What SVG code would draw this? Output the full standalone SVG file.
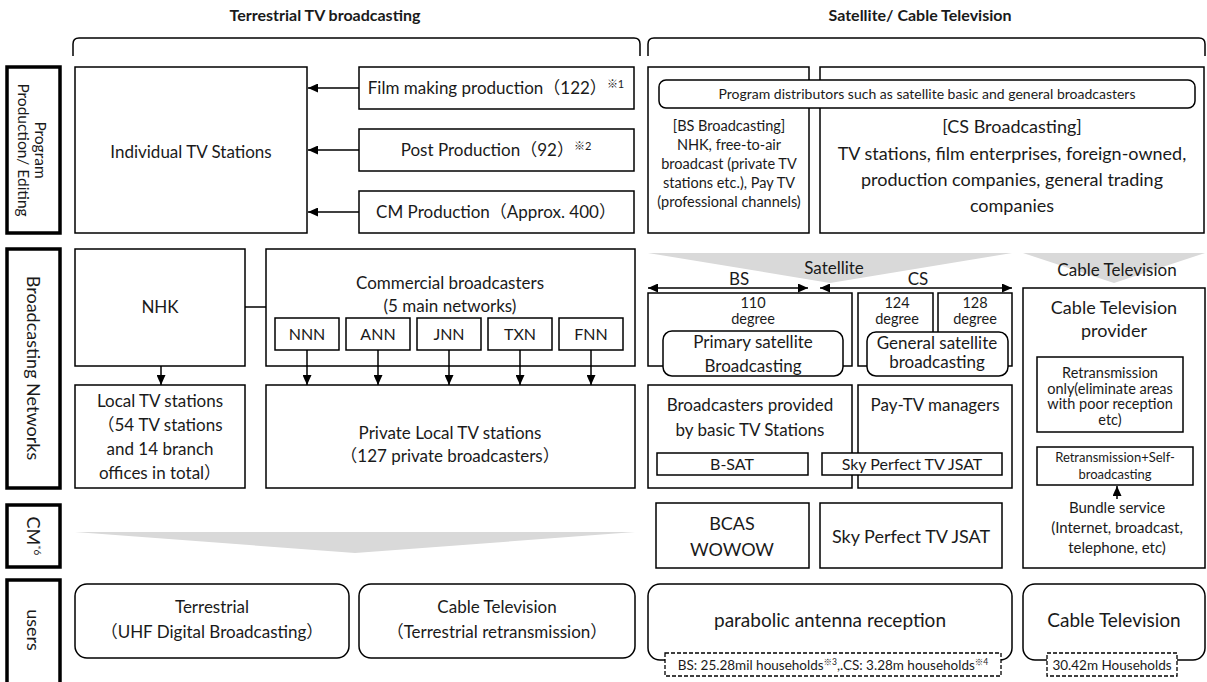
<svg xmlns="http://www.w3.org/2000/svg" width="1207" height="682" viewBox="0 0 1207 682">
<defs>
<style>
.t{font-family:Lato,"Noto Sans CJK JP",sans-serif;fill:#1a1a1a;text-anchor:middle}
.b{font-weight:bold}
.box{fill:#fff;stroke:#000;stroke-width:1.5}
.lbl{fill:#fff;stroke:#000;stroke-width:3.5}
.dash{fill:#fff;stroke:#000;stroke-width:1.3;stroke-dasharray:4 2}
.ln{fill:none;stroke:#000;stroke-width:1.5}
.chev{fill:#d9d9d9;stroke:none}
</style>
<marker id="ah" markerWidth="10" markerHeight="9" refX="10" refY="4.5" orient="auto-start-reverse" markerUnits="userSpaceOnUse"><path d="M0,0 L10,4.5 L0,9 z" fill="#000"/></marker>
</defs>
<rect width="1207" height="682" fill="#fff"/>

<g id="titles">
<text class="t b" x="325" y="21" font-size="16">Terrestrial TV broadcasting</text>
<text class="t b" x="920" y="21" font-size="16">Satellite/ Cable Television</text>
<path class="ln" d="M73,56 V44 Q73,38 79,38 H634 Q640,38 640,44 V56"/>
<path class="ln" d="M648,56 V44 Q648,38 654,38 H1199 Q1205,38 1205,44 V56"/>
</g>

<g id="row-labels">
<rect class="lbl" x="7" y="67" width="53" height="166"/>
<g transform="translate(33,150) rotate(90)"><text class="t" y="-2" font-size="15.5">Program</text><text class="t" y="15" font-size="15.5">Production/ Editing</text></g>
<rect class="lbl" x="7" y="249" width="53" height="239"/>
<g transform="translate(33,368) rotate(90)"><text class="t" y="6" font-size="18">Broadcasting Networks</text></g>
<rect class="lbl" x="7" y="505" width="53" height="62"/>
<g transform="translate(33,536) rotate(90)"><text class="t" y="6" font-size="18">CM<tspan font-size="10" dy="-7">*6</tspan></text></g>
<rect class="lbl" x="7" y="580" width="53" height="120"/>
<g transform="translate(33,630) rotate(90)"><text class="t" y="6" font-size="18">users</text></g>
</g>

<g id="individual-tv"><rect class="box" x="75" y="67" width="232" height="166"/><text class="t" x="191" y="158" font-size="17">Individual TV Stations</text></g>
<g id="film"><rect class="box" x="359" y="67" width="275" height="42"/><text class="t" x="496" y="94" font-size="17">Film making production（122）<tspan font-size="11" dy="-6">※1</tspan></text></g>
<g id="post"><rect class="box" x="359" y="129" width="275" height="42"/><text class="t" x="496" y="156" font-size="17">Post Production（92）<tspan font-size="11" dy="-6">※2</tspan></text></g>
<g id="cm-prod"><rect class="box" x="359" y="191" width="275" height="42"/><text class="t" x="496" y="218" font-size="17">CM Production（Approx. 400）</text></g>

<g id="bs-prog"><rect class="box" x="648" y="67" width="161" height="166"/>
<text class="t" x="729" y="131" font-size="14.5">[BS Broadcasting]</text>
<text class="t" x="729" y="150" font-size="14.5">NHK, free-to-air</text>
<text class="t" x="729" y="169" font-size="14.5">broadcast (private TV</text>
<text class="t" x="729" y="188" font-size="14.5">stations etc.), Pay TV</text>
<text class="t" x="729" y="207" font-size="14.5">(professional channels)</text></g>
<g id="cs-prog"><rect class="box" x="820" y="67" width="384" height="166"/>
<text class="t" x="1012" y="133" font-size="18">[CS Broadcasting]</text>
<text class="t" x="1012" y="160" font-size="18">TV stations, film enterprises, foreign-owned,</text>
<text class="t" x="1012" y="186" font-size="18">production companies, general trading</text>
<text class="t" x="1012" y="212" font-size="18">companies</text></g>
<g id="distributors"><rect class="box" x="659" y="80" width="536" height="28" rx="7"/><text class="t" x="927" y="99" font-size="14">Program distributors such as satellite basic and general broadcasters</text></g>

<g id="nhk"><rect class="box" x="75" y="249" width="170" height="117"/><text class="t" x="160" y="313" font-size="17">NHK</text></g>
<g id="commercial"><rect class="box" x="266" y="249" width="369" height="117"/><text class="t" x="450" y="289" font-size="17">Commercial broadcasters</text><text class="t" x="450" y="312" font-size="17">(5 main networks)</text></g>
<g id="nnn"><rect class="box" x="275" y="318" width="64" height="32"/><text class="t" x="307" y="340" font-size="16">NNN</text></g>
<g id="ann"><rect class="box" x="346" y="318" width="64" height="32"/><text class="t" x="378" y="340" font-size="16">ANN</text></g>
<g id="jnn"><rect class="box" x="417" y="318" width="64" height="32"/><text class="t" x="449" y="340" font-size="16">JNN</text></g>
<g id="txn"><rect class="box" x="488" y="318" width="64" height="32"/><text class="t" x="520" y="340" font-size="16">TXN</text></g>
<g id="fnn"><rect class="box" x="559" y="318" width="64" height="32"/><text class="t" x="591" y="340" font-size="16">FNN</text></g>
<g id="local-tv"><rect class="box" x="75" y="385" width="170" height="103"/>
<text class="t" x="160" y="407" font-size="17">Local TV stations</text>
<text class="t" x="160" y="431" font-size="17">（54 TV stations</text>
<text class="t" x="160" y="455" font-size="17">and 14 branch</text>
<text class="t" x="160" y="479" font-size="17">offices in total）</text></g>
<g id="private-local"><rect class="box" x="266" y="385" width="369" height="103"/><text class="t" x="450" y="439" font-size="17">Private Local TV stations</text><text class="t" x="450" y="462" font-size="17">（127 private broadcasters）</text></g>

<g id="satellite-header">
<polygon class="chev" points="648,253 1012,253 830,283"/>
<text class="t" x="834" y="274" font-size="17">Satellite</text>
<text class="t" x="739" y="285" font-size="17">BS</text>
<text class="t" x="918" y="285" font-size="17">CS</text>
</g>
<g id="bs110"><rect class="box" x="648" y="293" width="204" height="73"/><text class="t" x="753" y="308" font-size="14.5">110</text><text class="t" x="753" y="324" font-size="14.5">degree</text></g>
<g id="cs124"><rect class="box" x="858" y="293" width="75" height="73"/><text class="t" x="897" y="308" font-size="14.5">124</text><text class="t" x="897" y="324" font-size="14.5">degree</text></g>
<g id="cs128"><rect class="box" x="938" y="293" width="74" height="73"/><text class="t" x="975" y="308" font-size="14.5">128</text><text class="t" x="975" y="324" font-size="14.5">degree</text></g>
<g id="primary-sat"><rect class="box" x="663" y="331" width="180" height="45" rx="9"/><text class="t" x="753" y="348" font-size="17">Primary satellite</text><text class="t" x="753" y="372" font-size="17">Broadcasting</text></g>
<g id="general-sat"><rect class="box" x="867" y="332" width="141" height="44" rx="9"/><text class="t" x="937" y="349" font-size="17">General satellite</text><text class="t" x="937" y="368" font-size="17">broadcasting</text></g>
<g id="bs-broadcasters"><rect class="box" x="648" y="385" width="204" height="103"/><text class="t" x="750" y="411" font-size="17">Broadcasters provided</text><text class="t" x="750" y="436" font-size="17">by basic TV Stations</text></g>
<g id="paytv"><rect class="box" x="858" y="385" width="154" height="103"/><text class="t" x="935" y="411" font-size="17">Pay-TV managers</text></g>
<g id="bsat"><rect class="box" x="657" y="453" width="151" height="22"/><text class="t" x="732" y="470" font-size="16">B-SAT</text></g>
<g id="skyjsat-net"><rect class="box" x="822" y="453" width="180" height="22"/><text class="t" x="912" y="470" font-size="16">Sky Perfect TV JSAT</text></g>

<g id="cable-header"><polygon class="chev" points="1023,253 1205,253 1114,283"/><text class="t" x="1117" y="276" font-size="17">Cable Television</text></g>
<g id="cable-provider"><rect class="box" x="1023" y="288" width="182" height="280"/>
<text class="t" x="1114" y="314" font-size="18">Cable Television</text>
<text class="t" x="1114" y="337" font-size="18">provider</text></g>
<g id="retrans-only"><rect class="box" x="1037" y="357" width="146" height="75"/>
<text class="t" x="1110" y="378" font-size="14.5">Retransmission</text>
<text class="t" x="1110" y="394" font-size="14.5">only(eliminate areas</text>
<text class="t" x="1110" y="409" font-size="14.5">with poor reception</text>
<text class="t" x="1110" y="425" font-size="14.5">etc)</text></g>
<g id="retrans-self"><rect class="box" x="1037" y="447" width="156" height="38"/>
<text class="t" x="1115" y="462" font-size="13">Retransmission+Self-</text>
<text class="t" x="1115" y="479" font-size="13">broadcasting</text></g>
<g id="bundle"><text class="t" x="1117" y="513" font-size="15">Bundle service</text><text class="t" x="1117" y="533" font-size="15">(Internet, broadcast,</text><text class="t" x="1117" y="553" font-size="15">telephone, etc)</text></g>

<g id="cm-terrestrial"><polygon class="chev" points="75,532 635,532 355,553"/></g>
<g id="bcas"><rect class="box" x="656" y="503" width="153" height="65"/><text class="t" x="732" y="530" font-size="18">BCAS</text><text class="t" x="732" y="556" font-size="18">WOWOW</text></g>
<g id="skyjsat-cm"><rect class="box" x="820" y="503" width="182" height="65"/><text class="t" x="911" y="543" font-size="18">Sky Perfect TV JSAT</text></g>

<g id="users-terrestrial"><rect class="box" x="75" y="584" width="274" height="74" rx="12"/><text class="t" x="212" y="613" font-size="17">Terrestrial</text><text class="t" x="212" y="638" font-size="17">（UHF Digital Broadcasting）</text></g>
<g id="users-cable-retrans"><rect class="box" x="359" y="584" width="276" height="74" rx="12"/><text class="t" x="497" y="613" font-size="17">Cable Television</text><text class="t" x="497" y="638" font-size="17">（Terrestrial retransmission）</text></g>
<g id="users-parabolic"><rect class="box" x="648" y="584" width="364" height="76" rx="12"/><text class="t" x="830" y="627" font-size="19">parabolic antenna reception</text>
<rect class="dash" x="665" y="653" width="336" height="23"/><text class="t" x="833" y="670" font-size="13.5">BS: 25.28mil households<tspan font-size="8.5" dy="-5">※3</tspan><tspan dy="5">,.CS: 3.28m households</tspan><tspan font-size="8.5" dy="-5">※4</tspan></text></g>
<g id="users-cable"><rect class="box" x="1023" y="584" width="182" height="76" rx="12"/><text class="t" x="1114" y="627" font-size="19">Cable Television</text>
<rect class="dash" x="1047" y="653" width="130" height="23"/><text class="t" x="1112" y="670" font-size="13.5">30.42m Households</text></g>

<g id="connectors">
<line class="ln" x1="359" y1="88" x2="308" y2="88" marker-end="url(#ah)"/>
<line class="ln" x1="359" y1="150" x2="308" y2="150" marker-end="url(#ah)"/>
<line class="ln" x1="359" y1="212" x2="308" y2="212" marker-end="url(#ah)"/>
<line class="ln" x1="245" y1="307" x2="266" y2="307"/>
<line class="ln" x1="161" y1="366" x2="161" y2="385" marker-end="url(#ah)"/>
<line class="ln" x1="307" y1="350" x2="307" y2="385" marker-end="url(#ah)"/>
<line class="ln" x1="378" y1="350" x2="378" y2="385" marker-end="url(#ah)"/>
<line class="ln" x1="449" y1="350" x2="449" y2="385" marker-end="url(#ah)"/>
<line class="ln" x1="520" y1="350" x2="520" y2="385" marker-end="url(#ah)"/>
<line class="ln" x1="591" y1="350" x2="591" y2="385" marker-end="url(#ah)"/>
<line class="ln" x1="648" y1="288" x2="808" y2="288" marker-start="url(#ah)" marker-end="url(#ah)"/>
<line class="ln" x1="820" y1="288" x2="1012" y2="288" marker-start="url(#ah)" marker-end="url(#ah)"/>
<line class="ln" x1="1117" y1="499" x2="1117" y2="486" marker-end="url(#ah)"/>
</g>
</svg>
